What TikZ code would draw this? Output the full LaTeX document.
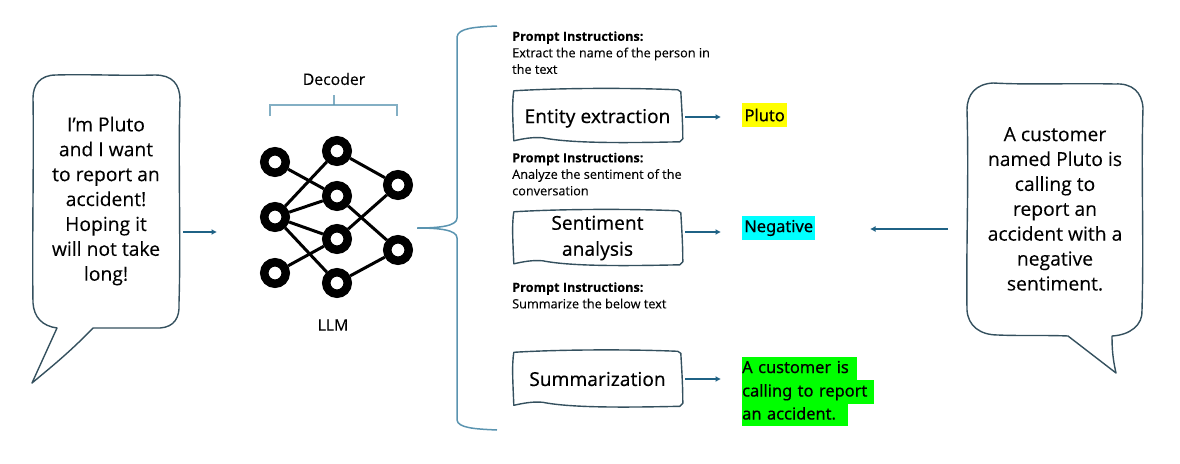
\documentclass[tikz,border=0pt]{standalone}
\usepackage{fontspec}
\usepackage{xcolor}
\usepackage{tikz}
\usetikzlibrary{calc,arrows.meta}
\setmainfont[FakeBold=0.15]{Open Sans}
\newfontfamily\hlfont[FakeBold=0.5]{Noto Sans}
\newfontfamily\taskfont[FakeBold=0.1]{Noto Sans}
\definecolor{inkline}{HTML}{34505E}
\definecolor{flowblue}{HTML}{1F6285}
\definecolor{bracecol}{HTML}{5A94B0}
\definecolor{hlyellow}{HTML}{FFFF00}
\definecolor{hlcyan}{HTML}{00FFFF}
\definecolor{hlgreen}{HTML}{00FF00}
\tikzset{
  sketch/.style={draw=inkline,line width=1.4pt,line join=round},
  flow/.style={draw=flowblue,line width=1.5pt,-{Latex[length=5.5pt,width=6pt]}},
  bubbletext/.style={align=center,inner sep=0pt,font=\fontsize{19.3}{24.9}\selectfont},
  taskbox/.style={minimum width=169pt,inner sep=0pt,align=center,font=\taskfont\fontsize{19.1}{26}\selectfont},
  prompttext/.style={anchor=north west,inner sep=0pt,align=left,font=\fontsize{12.7}{16.5}\selectfont},
  hl/.style={anchor=west,inner sep=0pt,font=\hlfont\fontsize{16.4}{22}\selectfont},
  hlline/.style={hl,fill=hlgreen,align=left,text height=14pt,text depth=4pt},
  neuron/.style={circle,draw=black,fill=white,line width=8.5pt,minimum size=21.5pt,inner sep=0pt},
  synapse/.style={draw=black,line width=3pt},
  bracket/.style={draw=bracecol,line width=1.5pt}
}
\newcommand{\sketchbox}[2]{%
  \begin{scope}[shift={(#1.north west)}]
    \draw[sketch] (1,2) .. controls (50,-1) and (120,-1) .. (165,1) -- (168,3)
      .. controls (169,20) and (170,35) .. (170,#2-4) -- (167,#2-1)
      .. controls (120,#2) and (60,#2+1) .. (30,#2-5) .. controls (20,#2-6) and (10,#2-4) .. (1,#2-2)
      .. controls (0,30) and (-1,15) .. (1,2) -- cycle;
  \end{scope}}
\begin{document}
\begin{tikzpicture}[x=1pt,y=-1pt]
    \useasboundingbox (0,0) rectangle (1180,463);

    % left speech bubble
    \node[bubbletext] (said) at (106,201) {I’m Pluto\\and I want\\to report an\\accident!\\Hoping it\\will not take\\long!};
    \draw[sketch] (57,328) -- (32,383) .. controls (50,368) and (70,352) .. (93,328) -- (160,328)
      .. controls (174,327) and (180,318) .. (179,303) .. controls (181,240) and (178,160) .. (180,100)
      .. controls (180,84) and (172,75) .. (155,75) .. controls (120,76) and (90,74) .. (56,75)
      .. controls (40,75) and (33,85) .. (33,98) .. controls (34,160) and (32,240) .. (33,303)
      .. controls (34,317) and (42,326) .. (57,328) -- cycle;

    % decoder network
    \node (dec) at (334,79) {\fontsize{15.8}{18}\selectfont Decoder};
    \node (llm) at (333,325) {\fontsize{15.8}{18}\selectfont LLM};
    \draw[bracket,opacity=.75] (270,116) -- (270,105) -- (397,105) -- (397,116);
    \draw[bracket,opacity=.75] (334,105) -- (334,95);

    \node[neuron] (a1) at (275,162) {};
    \node[neuron] (a2) at (275,217) {};
    \node[neuron] (a3) at (275,273) {};
    \node[neuron] (b1) at (337,151) {};
    \node[neuron] (b2) at (337,196) {};
    \node[neuron] (b3) at (337,239) {};
    \node[neuron] (b4) at (337,283) {};
    \node[neuron] (c1) at (398,185) {};
    \node[neuron] (c2) at (398,250) {};

    \draw[synapse] (a1) -- (b2);
    \draw[synapse] (a2) -- (b1);
    \draw[synapse] (a2) -- (b2);
    \draw[synapse] (a2) -- (b3);
    \draw[synapse] (a2) -- (b4);
    \draw[synapse] (a3) -- (b3);
    \draw[synapse] (b1) -- (c1);
    \draw[synapse] (b2) -- (c2);
    \draw[synapse] (b3) -- (c1);
    \draw[synapse] (b4) -- (c2);

    % brace towards the three tasks
    \draw[bracket] (497,26) .. controls (475,27) and (458,28) .. (457,37) -- (457,218)
      .. controls (457,226) and (440,228) .. (417,228) .. controls (440,228) and (457,230) .. (457,238)
      -- (457,420) .. controls (458,428) and (475,429) .. (497,430);

    % prompts
    \node[prompttext] (p1) at (512,31) {\textbf{Prompt Instructions:}\\Extract the name of the person in\\the text};
    \node[prompttext] (p2) at (512,152.5) {\textbf{Prompt Instructions:}\\Analyze the sentiment of the\\conversation};
    \node[prompttext] (p3) at (512,282) {\textbf{Prompt Instructions:}\\Summarize the below text};

    % tasks
    \node[taskbox,minimum height=54pt,text depth=0pt] (ent) at (597.5,116) {Entity extraction};
    \node[taskbox,minimum height=56pt] (sent) at (597.5,238) {Sentiment\\analysis};
    \node[taskbox,minimum height=57pt] (summ) at (597.5,379) {Summarization};
    \sketchbox{ent}{54}
    \sketchbox{sent}{56}
    \sketchbox{summ}{57}

    % results
    \node[hl,fill=hlyellow,minimum width=45pt,minimum height=24pt] (pluto) at (742,115) {Pluto};
    \node[hl,fill=hlcyan,minimum width=73pt,minimum height=24pt] (neg) at (742,228) {Negative};
    \node[hlline,text width=115pt,minimum height=23pt] (g1) at (742,368) {A customer is};
    \node[hlline,text width=132pt,minimum height=24pt] (g2) at (742,391.5) {calling to report};
    \node[hlline,text width=106pt,minimum height=23pt] (g3) at (742,414.5) {an accident.};

    % right speech bubble
    \node[bubbletext] (told) at (1055,209) {A customer\\named Pluto is\\calling to\\report an\\accident with a\\negative\\sentiment.};
    \draw[sketch] (1068,336) -- (1116,373) .. controls (1113,360) and (1112,350) .. (1112,336)
      .. controls (1130,335) and (1143,325) .. (1142,310) .. controls (1144,240) and (1141,170) .. (1143,108)
      .. controls (1142,92) and (1132,83) .. (1115,84) .. controls (1070,83) and (1030,85) .. (993,83)
      .. controls (976,84) and (967,94) .. (967,110) .. controls (969,180) and (966,250) .. (967,310)
      .. controls (968,326) and (980,335) .. (998,335) .. controls (1020,336) and (1045,335) .. (1068,336) -- cycle;

    % arrows
    \coordinate (in) at (183,232);
    \coordinate (out) at (948,229);
    \draw[flow] (in) -- (217,232);
    \draw[flow] (685,117) -- (721,117);
    \draw[flow] (685,232) -- (721,232);
    \draw[flow] (685,379) -- (721,379);
    \draw[flow] (out) -- (870,229);
  \end{tikzpicture}
\end{document}
